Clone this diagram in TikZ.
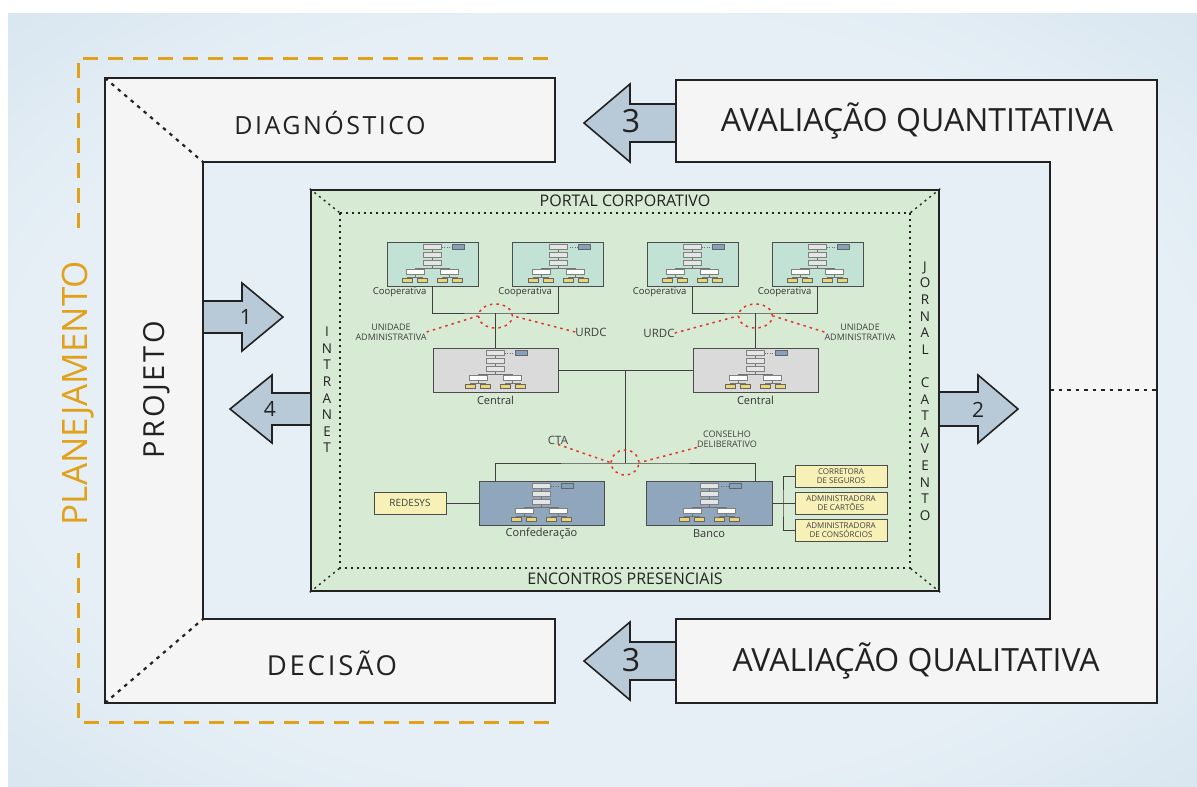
\documentclass[tikz,border=0pt]{standalone}
\usepackage{fontspec}
\setmainfont{Open Sans}
\newfontfamily\spacedfont[LetterSpace=10]{Open Sans}
\usepackage{tikz}
\usetikzlibrary{shapes.geometric}
\providecommand{\fsize}[2]{\fontsize{#1}{#2}\selectfont}
\definecolor{bgin}{HTML}{E6EFF6}
\definecolor{bgout}{HTML}{C0D6E4}
\definecolor{framewhite}{HTML}{F5F5F5}
\definecolor{planorange}{HTML}{E2A11B}
\definecolor{portalgreen}{HTML}{D7EAD4}
\definecolor{coopgreen}{HTML}{C2E2D5}
\definecolor{centralgray}{HTML}{DADADA}
\definecolor{confblue}{HTML}{8FA6BC}
\definecolor{boxyellow}{HTML}{F7F1B8}
\definecolor{chartyellow}{HTML}{EDD572}
\definecolor{chartblue}{HTML}{86A1BB}
\definecolor{arrowblue}{HTML}{B8CAD7}
\definecolor{dotred}{HTML}{E5322B}
\definecolor{inkgray}{HTML}{222222}
\pgfdeclareradialshading{bgshade}{\pgfpoint{0bp}{0bp}}{color(0bp)=(bgin); color(25bp)=(bgin); color(55bp)=(bgout); color(72bp)=(bgout)}
\tikzset{
  minichart/.pic={
    \draw[black!55, line width=0.5pt] (0,-17) -- (0,4) (-17,4) -- (17,4)
      (-17,4) -- (-17,13) (17,4) -- (17,13) (-25,13) -- (-10,13) (10,13) -- (25,13)
      (-25,13) -- (-25,16) (-10,13) -- (-10,16) (10,13) -- (10,16) (25,13) -- (25,16);
    \draw[black!55, line width=0.5pt, dotted] (9,-17) -- (20,-17);
    \foreach \dy in {-17,-9,-1}
      \filldraw[fill=black!10, draw=black!50, line width=0.4pt] (-9,\dy-2.5) rectangle (9,\dy+2.5);
    \filldraw[fill=chartblue, draw=black!60, line width=0.4pt] (20,-19.5) rectangle (32,-14.5);
    \foreach \dx in {-17,17}
      \filldraw[fill=white, draw=black!50, line width=0.4pt] (\dx-9,5.5) rectangle (\dx+9,10.5);
    \foreach \dx in {-25,-10,10,25}
      \filldraw[fill=chartyellow, draw=black!60, line width=0.4pt] (\dx-5,14) rectangle (\dx+5,18);
  }
}
\begin{document}
\begin{tikzpicture}[x=1pt,y=-1pt,
  frame/.style={fill=framewhite, draw=inkgray, line width=2pt},
  framedot/.style={draw=inkgray, line width=2.2pt, dash pattern=on 3.5pt off 5pt},
  orangedash/.style={draw=planorange, line width=3pt, dash pattern=on 15pt off 10pt},
  blockarrow/.style={fill=arrowblue, draw=inkgray, line width=1.6pt, line join=miter},
  bigtxt/.style={text=inkgray, inner sep=0pt, font=\fsize{32}{36}},
  sidetxt/.style={text=inkgray, inner sep=0pt, font=\spacedfont\fsize{25}{30}},
  numtxt/.style={text=inkgray, inner sep=0pt},
  portaldot/.style={draw=inkgray, line width=1.4pt, dash pattern=on 2pt off 4pt},
  portaltxt/.style={text=inkgray, inner sep=0pt, font=\fsize{16}{18}},
  vtxt/.style={text=inkgray, inner sep=0pt, align=center, font=\fsize{13.5}{16.6}},
  orgbox/.style={draw=black!70, line width=0.8pt, inner sep=0pt, minimum height=44pt},
  coopbox/.style={orgbox, fill=coopgreen, minimum width=91pt},
  centralbox/.style={orgbox, fill=centralgray, minimum width=125pt},
  confbox/.style={orgbox, fill=confblue, minimum width=125pt},
  yelbox/.style={draw=black!70, line width=0.8pt, fill=boxyellow, inner sep=0pt,
    minimum height=22pt, align=center, text=black!75, font=\fsize{8}{9}},
  lbl/.style={text=black!80, inner sep=0pt},
  link/.style={draw=black!75, line width=0.8pt},
  reddot/.style={draw=dotred, line width=1.5pt, dash pattern=on 2.5pt off 4pt},
  redloop/.style={ellipse, reddot, inner sep=0pt},
  redlbl/.style={text=black!75, inner sep=0pt, align=center, font=\fsize{9}{10}}]
\useasboundingbox (0,0) rectangle (1197,787);
\fill[white] (0,0) rectangle (1197,787);
\shade[shading=bgshade] (8,13) rectangle (1197,787);
% Drawing planning bracket
\draw[orangedash] (78,228) -- (78,58) -- (555,58);
\draw[orangedash] (78,553) -- (78,722) -- (555,722);
\node[rotate=90, text=planorange, inner sep=0pt, font=\fsize{35}{40}] (plan) at (78,393) {PLANEJAMENTO};
% Drawing block arrows
% Arrow 3: quantitativa -> diagnostico
\filldraw[blockarrow] (676,104) -- (630,104) -- (630,84) -- (584,123) -- (630,162) -- (630,142) -- (676,142);
% Arrow 3: qualitativa -> decisao
\filldraw[blockarrow] (676,642) -- (630,642) -- (630,622) -- (584,661) -- (630,700) -- (630,680) -- (676,680);
% Arrow 1: projeto -> portal
\filldraw[blockarrow] (203,301) -- (242,301) -- (242,283) -- (283,317) -- (242,351) -- (242,333) -- (203,333);
% Arrow 4: portal -> projeto
\filldraw[blockarrow] (311,393) -- (272,393) -- (272,375) -- (230,409) -- (272,443) -- (272,425) -- (311,425);
% Arrow 2: portal -> avaliacao
\filldraw[blockarrow] (939,392) -- (978,392) -- (978,375) -- (1018,409) -- (978,443) -- (978,426) -- (939,426);
% Drawing frames
\filldraw[frame] (105,78) -- (555,78) -- (555,162) -- (203,162) -- (203,619) -- (555,619) -- (555,703) -- (105,703) -- cycle;
\draw[framedot] (105,78) -- (203,162);
\draw[framedot] (105,703) -- (203,619);
\filldraw[frame] (676,80) -- (1157,80) -- (1157,703) -- (676,703) -- (676,619) -- (1050,619) -- (1050,162) -- (676,162) -- cycle;
\draw[framedot] (1050,390) -- (1157,390);
% Frame labels
\node[sidetxt] (diag) at (330,123) {DIAGNÓSTICO};
\node[sidetxt, font=\spacedfont\fsize{27.5}{32}] (decis) at (332,663) {DECISÃO};
\node[sidetxt, rotate=90, font=\spacedfont\fsize{29}{34}] (proj) at (157,390) {PROJETO};
\node[bigtxt] (quanti) at (917,121) {AVALIAÇÃO QUANTITATIVA};
\node[bigtxt] (quali) at (916,661) {AVALIAÇÃO QUALITATIVA};
\node[numtxt, font=\fsize{32}{36}] (n3a) at (631,121) {3};
\node[numtxt, font=\fsize{32}{36}] (n3b) at (631,660) {3};
\node[numtxt, font=\fsize{21}{24}] (n1) at (246,317) {1};
\node[numtxt, font=\fsize{21}{24}] (n4) at (270,409) {4};
\node[numtxt, font=\fsize{21}{24}] (n2) at (978,410) {2};
% Done with frames; drawing portal
\node[draw=inkgray, line width=2.5pt, fill=portalgreen, inner sep=0pt,
  minimum width=628pt, minimum height=401pt] (portal) at (625,390.5) {};
\coordinate (dnw) at (340,213);
\coordinate (dne) at (910,213);
\coordinate (dse) at (910,568);
\coordinate (dsw) at (340,568);
\draw[portaldot] (dnw) -- (dne) -- (dse) -- (dsw) -- cycle;
\draw[portaldot] (portal.north west) -- (dnw);
\draw[portaldot] (portal.north east) -- (dne);
\draw[portaldot] (portal.south east) -- (dse);
\draw[portaldot] (portal.south west) -- (dsw);
\node[portaltxt] (ptitle) at (625,201) {PORTAL CORPORATIVO};
\node[portaltxt] (encontros) at (625,579) {ENCONTROS PRESENCIAIS};
\node[vtxt] (intranet) at (327,390) {I\\N\\T\\R\\A\\N\\E\\T};
\node[vtxt] (jornal) at (925,391) {J\\O\\R\\N\\A\\L\\[16.6pt]C\\A\\T\\A\\V\\E\\N\\T\\O};
% Drawing organisation boxes
\node[coopbox] (coop1) at (432.5,264) {};
\node[coopbox] (coop2) at (558,264) {};
\node[coopbox] (coop3) at (692.5,264) {};
\node[coopbox] (coop4) at (817.5,264) {};
\node[centralbox] (cent1) at (495.5,370) {};
\node[centralbox] (cent2) at (755.5,370) {};
\node[confbox] (conf) at (541.5,503) {};
\node[confbox, minimum width=126pt] (banco) at (709,503) {};
\foreach \n in {coop1,coop2,coop3,coop4,cent1,cent2,conf,banco}
  \pic at (\n.center) {minichart};
\foreach \n in {coop1,coop2,coop3,coop4}
  \node[lbl, font=\fsize{9.5}{11}] at ([xshift=13pt,yshift=-6pt]\n.south west) {Cooperativa};
\node[lbl, font=\fsize{11}{13}] (lcent1) at ([yshift=-8pt]cent1.south) {Central};
\node[lbl, font=\fsize{11}{13}] (lcent2) at ([yshift=-8pt]cent2.south) {Central};
\node[lbl, font=\fsize{11}{13}] (lconf) at ([yshift=-8pt]conf.south) {Confederação};
\node[lbl, font=\fsize{11}{13}] (lbanco) at ([yshift=-8pt]banco.south) {Banco};
\node[yelbox, minimum width=72pt, font=\fsize{10}{11}] (redesys) at (410,503) {REDESYS};
\node[yelbox, minimum width=92pt] (corr) at (841,476) {CORRETORA\\DE SEGUROS};
\node[yelbox, minimum width=92pt] (cart) at (841,503) {ADMINISTRADORA\\DE CARTÕES};
\node[yelbox, minimum width=92pt] (cons) at (841,530) {ADMINISTRADORA\\DE CONSÓRCIOS};
% Drawing links
\coordinate (j1) at (495.5,313);
\coordinate (j2) at (755.5,313);
\coordinate (j3) at (625,370);
\coordinate (j4) at (625,463);
\coordinate (bus) at (783,503);
\draw[link] (coop1.south) |- (j1) -| (coop2.south);
\draw[link] (j1) -- (cent1.north);
\draw[link] (coop3.south) |- (j2) -| (coop4.south);
\draw[link] (j2) -- (cent2.north);
\draw[link] (cent1.east) -- (cent2.west);
\draw[link] (j3) -- (j4);
\draw[link] ([xshift=-46.5pt]conf.north) |- (j4) -| ([xshift=46pt]banco.north);
\draw[link] (redesys.east) -- (conf.west);
\draw[link] (banco.east) -- (bus);
\draw[link] (corr.west) -| (bus) |- (cons.west);
\draw[link] (cart.west) -- (bus);
% Drawing red councils
\node[redloop, minimum width=34pt, minimum height=24pt] (loop1) at (495.5,316) {};
\node[redloop, minimum width=34pt, minimum height=24pt] (loop2) at (755.5,316) {};
\node[redloop, minimum width=28pt, minimum height=25pt] (loop3) at (625,462.5) {};
\node[redlbl] (unid1) at (391,332) {UNIDADE\\ADMINISTRATIVA};
\node[redlbl, font=\fsize{11.5}{13}] (urdc1) at (591,332) {URDC};
\node[redlbl, font=\fsize{11.5}{13}] (urdc2) at (659,333) {URDC};
\node[redlbl] (unid2) at (860,332) {UNIDADE\\ADMINISTRATIVA};
\node[redlbl, font=\fsize{11.5}{13}] (cta) at (558,440) {CTA};
\node[redlbl] (consel) at (727,439) {CONSELHO\\DELIBERATIVO};
\draw[reddot] (unid1.east) -- (loop1.west);
\draw[reddot] (urdc1.west) -- (loop1.east);
\draw[reddot] (urdc2.east) -- (loop2.west);
\draw[reddot] (unid2.west) -- (loop2.east);
\draw[reddot] (cta.south) -- (loop3.west);
\draw[reddot] (consel.south west) -- (loop3.east);
% Done with links
\end{tikzpicture}
\end{document}
